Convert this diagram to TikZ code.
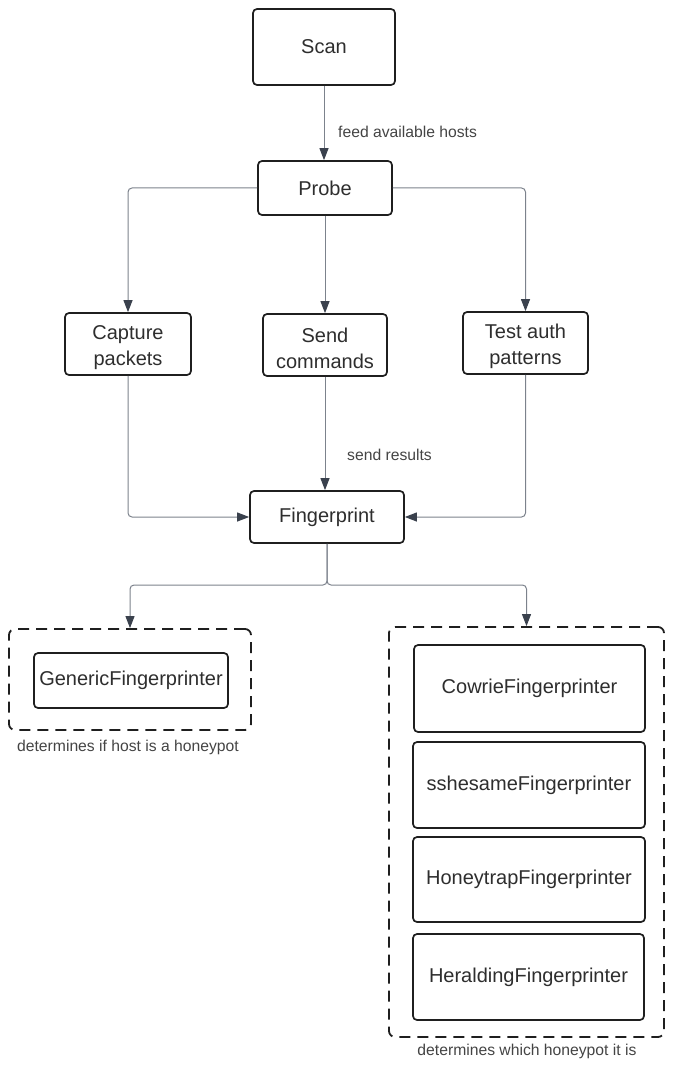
\documentclass[tikz,border=0pt]{standalone}
\usepackage{fontspec}
\setmainfont{Liberation Sans}
\usetikzlibrary{arrows.meta,calc}
\definecolor{boxc}{HTML}{1F1F1F}
\definecolor{linec}{HTML}{7C828C}
\definecolor{tipc}{HTML}{3A414D}
\definecolor{txtc}{HTML}{2E2E2E}
\definecolor{lblc}{HTML}{444444}
\newcommand{\toppad}{\rule{0pt}{22pt}}
\begin{document}
\begin{tikzpicture}[x=1pt,y=-1pt,
 box/.style={draw=boxc,line width=1.7pt,rounded corners=4pt,fill=white,text=txtc,font=\fontsize{20}{26}\selectfont,align=center,inner sep=0pt},
 grp/.style={draw=boxc,line width=1.8pt,dash pattern=on 11pt off 7pt,rounded corners=6pt,inner sep=0pt},
 conn/.style={draw=linec,line width=1pt,rounded corners=4pt,-{Triangle[length=12pt,width=9pt,color=tipc]}},
 lbl/.style={text=lblc,font=\fontsize{15.7}{18}\selectfont,inner sep=0pt}]
\useasboundingbox (0,0) rectangle (673,1067);
\node[box,minimum width=142pt,minimum height=76pt] (scan) at (324,47) {Scan};
\node[box,minimum width=134pt,minimum height=54pt] (probe) at (325,188) {Probe};
\node[box,minimum width=126pt,minimum height=62pt] (capture) at (128,344) {\toppad Capture\\packets};
\node[box,minimum width=124pt,minimum height=62pt] (send) at (325,345) {\toppad Send\\commands};
\node[box,minimum width=125pt,minimum height=62pt] (test) at (525.5,343) {\toppad Test auth\\patterns};
\node[box,minimum width=154pt,minimum height=52pt] (finger) at (327,517) {Fingerprint};
\node[grp,minimum width=242pt,minimum height=101pt] (leftg) at (130,679.5) {};
\node[box,minimum width=194pt,minimum height=55pt] (generic) at (131,680.5) {GenericFingerprinter};
\node[grp,minimum width=275pt,minimum height=410pt] (rightg) at (526.5,832) {};
\node[box,minimum width=231pt,minimum height=87pt] (cowrie) at (529.5,688.5) {CowrieFingerprinter};
\node[box,minimum width=232pt,minimum height=86pt] (ssh) at (529,785) {sshesameFingerprinter};
\node[box,minimum width=232pt,minimum height=85pt] (honey) at (529,879.5) {HoneytrapFingerprinter};
\node[box,minimum width=231pt,minimum height=86pt] (herald) at (528.5,977) {HeraldingFingerprinter};
\node[lbl,anchor=west] (feedl) at (338,132) {feed available hosts};
\node[lbl,anchor=west] (sendl) at (347,455) {send results};
\node[lbl] (ldesc) at (128,747) {determines if host is a honeypot};
\node[lbl] (rdesc) at (527,1051) {determines which honeypot it is};
\draw[conn] (scan.south) -- (scan.south |- probe.north);
\draw[conn] (probe.west) -| (capture.north);
\draw[conn] (probe.east) -| (test.north);
\draw[conn] (probe.south) -- (send.north);
\draw[conn] (capture.south) |- (finger.west);
\draw[conn] (test.south) |- (finger.east);
\draw[conn] (send.south) -- (send.south |- finger.north);
\coordinate (split) at (327,585);
\draw[conn] (finger.south) -- (split) -| (leftg.north);
\draw[conn] (finger.south) -- (split) -| (rightg.north);
\end{tikzpicture}
\end{document}
